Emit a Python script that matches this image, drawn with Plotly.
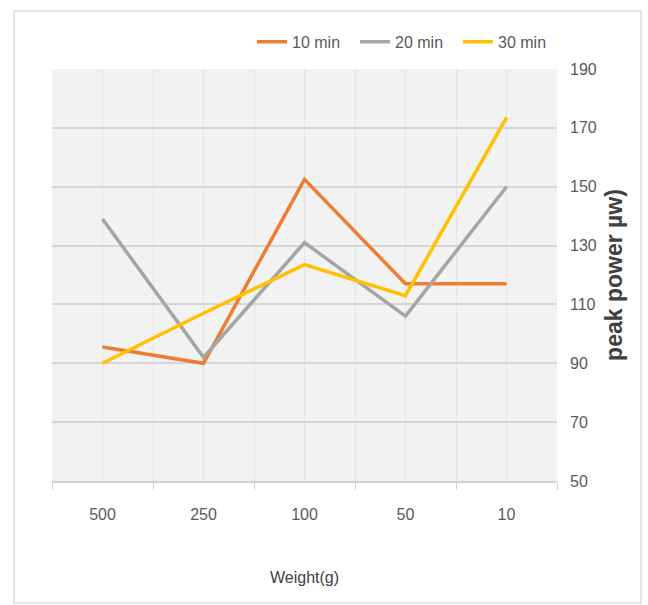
import plotly.graph_objects as go

# Load weights (g) on the category axis and peak power readings per soak time
weights = ["500", "250", "100", "50", "10"]
power_10min = [95.5, 90, 152.5, 117, 117]
power_20min = [139, 92, 131, 106, 150]
power_30min = [90, 107, 123.5, 113, 173.5]

series_names = ["10 min", "20 min", "30 min"]
series_colors = ["#ED7D31", "#A5A5A5", "#FFC000"]

y_min, y_max, y_step = 50, 190, 20

x_pos = list(range(len(weights)))
boundaries = [i - 0.5 for i in range(len(weights) + 1)]

BASE_FONT = "Liberation Sans, Arial, sans-serif"
TEXT_GRAY = "#595959"

fig = go.Figure()

for name, color, vals in zip(series_names, series_colors,
                             [power_10min, power_20min, power_30min]):
    fig.add_trace(go.Scatter(
        x=x_pos, y=vals, name=name, mode="lines",
        line=dict(color=color, width=3.5),
    ))

fig.update_layout(
    width=648, height=605,
    margin=dict(l=52, r=91, t=69, b=124),
    paper_bgcolor="white",
    plot_bgcolor="#F2F2F2",
    font=dict(family=BASE_FONT, size=16, color=TEXT_GRAY),
    showlegend=True,
    legend=dict(
        orientation="h",
        x=(252 - 52) / 505, xanchor="left",
        y=1.066, yanchor="middle",
        font=dict(family=BASE_FONT, size=16, color=TEXT_GRAY),
        entrywidth=58, entrywidthmode="pixels",
        bgcolor="rgba(0,0,0,0)",
        traceorder="normal",
    ),
    xaxis=dict(
        range=[-0.5, len(weights) - 0.5],
        tickmode="array", tickvals=x_pos, ticktext=weights,
        ticks="", showgrid=True, gridcolor="#E4E4E4", gridwidth=1,
        showline=True, linecolor="#D0D0D0", linewidth=2,
        zeroline=False,
        ticklabelstandoff=18,
        tickfont=dict(family=BASE_FONT, size=16, color=TEXT_GRAY),
        minor=dict(tickvals=boundaries, ticks="outside", ticklen=7,
                   tickcolor="#D0D0D0", tickwidth=1,
                   showgrid=True, gridcolor="#E4E4E4", gridwidth=1),
        title=dict(text="Weight(g)", standoff=50,
                   font=dict(family=BASE_FONT, size=16, color="#404040")),
    ),
    yaxis=dict(
        side="right",
        range=[y_min, y_max],
        tickmode="linear", tick0=y_min, dtick=y_step,
        ticks="", showgrid=True, gridcolor="#D6D6D6", gridwidth=1.5,
        zeroline=False, showline=False,
        ticklabelstandoff=12,
        tickfont=dict(family=BASE_FONT, size=16, color=TEXT_GRAY),
        title=dict(text="peak power µw)", standoff=10,
                   font=dict(family=BASE_FONT, size=23, color="#404040",
                             weight="bold")),
    ),
)

# Chart frame around the whole figure
fig.add_shape(type="rect", xref="paper", yref="paper",
              x0=(14 - 52) / 505, x1=(641 - 52) / 505,
              y0=-(603 - 481) / 412, y1=1 + (69 - 11) / 412,
              line=dict(color="#D9D9D9", width=1.5),
              fillcolor="rgba(0,0,0,0)", layer="below")

fig.write_html("out.html")
